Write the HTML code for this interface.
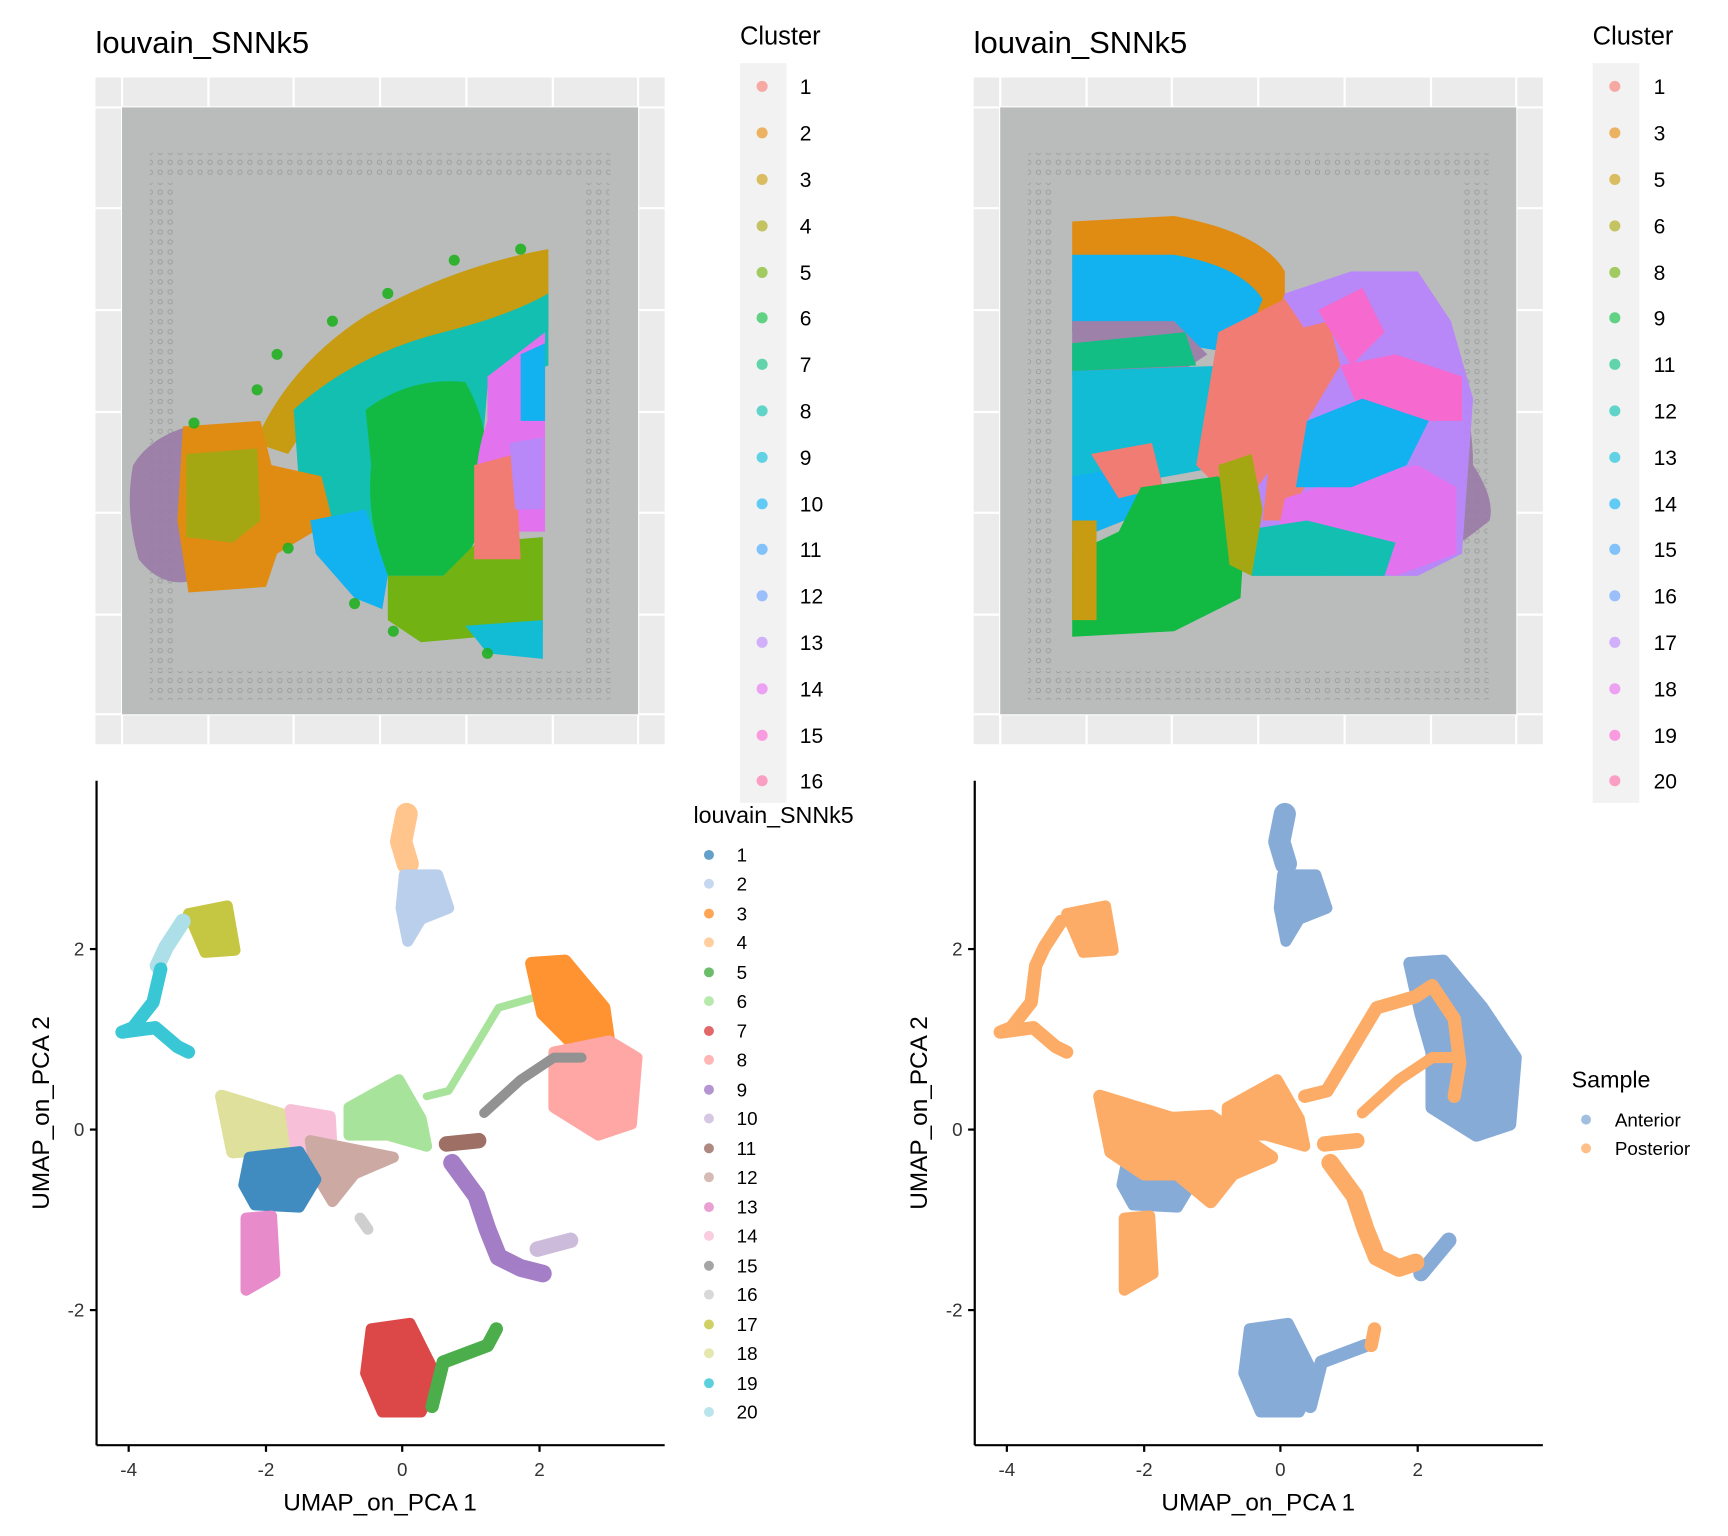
<!DOCTYPE html>
<html><head><meta charset="utf-8"><style>
html,body{margin:0;padding:0;background:#fff}
svg{display:block}
text{font-family:"Liberation Sans",sans-serif;}
</style></head><body>
<svg width="1728" height="1536" viewBox="0 0 1560 1387" xmlns="http://www.w3.org/2000/svg">
<defs>
<pattern id="dots" width="9" height="9" patternUnits="userSpaceOnUse">
<circle cx="4.5" cy="4.5" r="2" fill="none" stroke="#9a9c9c" stroke-width="0.8"/>
</pattern>
<g id="grid">
<rect x="0" y="0" width="514" height="602" fill="#ebebeb"/>
<g stroke="#fff" stroke-width="2">
<line x1="24" y1="0" x2="24" y2="602"/><line x1="102" y1="0" x2="102" y2="602"/><line x1="179" y1="0" x2="179" y2="602"/><line x1="257" y1="0" x2="257" y2="602"/><line x1="335" y1="0" x2="335" y2="602"/><line x1="413" y1="0" x2="413" y2="602"/><line x1="490" y1="0" x2="490" y2="602"/>
<line x1="0" y1="27" x2="514" y2="27"/><line x1="0" y1="118" x2="514" y2="118"/><line x1="0" y1="210" x2="514" y2="210"/><line x1="0" y1="302" x2="514" y2="302"/><line x1="0" y1="393" x2="514" y2="393"/><line x1="0" y1="485" x2="514" y2="485"/><line x1="0" y1="575" x2="514" y2="575"/>
</g>
<rect x="24" y="27" width="466" height="548" fill="#b9bcbb"/>
<rect x="49" y="68" width="416" height="22" fill="url(#dots)"/>
<rect x="49" y="536" width="416" height="26" fill="url(#dots)"/>
<rect x="49" y="95" width="24" height="440" fill="url(#dots)"/>
<rect x="440" y="95" width="24" height="440" fill="url(#dots)"/>
</g>
</defs>

<!-- Top left spatial -->
<text x="86" y="48" font-size="28" fill="#000">louvain_SNNk5</text>
<g transform="translate(86,70)"><use href="#grid"/></g>
<g opacity="0.9">
<path d="M120,420 Q112,460 125,505 Q145,530 170,525 L170,385 Q135,395 120,420Z" fill="#9a7ba8"/>
<path d="M230,400 Q260,330 330,285 Q410,240 495,225 L495,300 Q420,310 350,330 Q290,360 260,410 Z" fill="#c99800"/>
<path d="M265,370 Q320,320 400,300 Q460,285 495,265 L495,330 L440,350 L430,470 L330,520 L290,480 L270,440 Z" fill="#00c0af"/>
<path d="M165,385 L235,380 L245,420 L290,430 L300,470 L250,500 L240,530 L170,535 L160,470 Z" fill="#e58700"/>
<path d="M168,410 L232,405 L235,470 L210,490 L168,485 Z" fill="#a3a500"/>
<path d="M330,370 Q370,340 420,345 Q440,380 440,420 Q440,500 400,520 L350,520 Q330,470 335,420 Z" fill="#00ba38"/>
<path d="M280,470 L330,460 L350,520 L345,550 L320,540 L285,500 Z" fill="#00b0f6"/>
<path d="M350,520 L400,520 L430,490 L490,485 L490,570 L380,580 L350,560 Z" fill="#6bb100"/>
<path d="M420,565 L490,560 L490,595 L440,590 Z" fill="#00bcd8"/>
<path d="M440,340 L492,300 L492,480 L430,480 Q425,420 440,380Z" fill="#e76bf3"/>
<path d="M428,420 L465,410 L470,505 L428,505 Z" fill="#f8766d"/>
<path d="M470,320 L492,310 L492,380 L470,380 Z" fill="#00b0f6"/>
<path d="M460,400 L490,395 L490,460 L465,460Z" fill="#b983ff"/>
</g>
<g fill="#22b022" opacity="0.9">
<circle cx="175" cy="382" r="5"/><circle cx="232" cy="352" r="5"/><circle cx="250" cy="320" r="5"/><circle cx="300" cy="290" r="5"/><circle cx="350" cy="265" r="5"/><circle cx="410" cy="235" r="5"/><circle cx="470" cy="225" r="5"/><circle cx="260" cy="495" r="5"/><circle cx="320" cy="545" r="5"/><circle cx="355" cy="570" r="5"/><circle cx="440" cy="590" r="5"/>
</g>

<!-- Legend top left -->
<text x="668" y="40" font-size="23">Cluster</text>
<rect x="668" y="57" width="42" height="668" fill="#f2f2f2"/>
<g font-size="19">
<circle cx="688" cy="78" r="5" fill="#f8766d" opacity=".6"/><text x="722" y="85">1</text>
<circle cx="688" cy="120" r="5" fill="#e58700" opacity=".6"/><text x="722" y="127">2</text>
<circle cx="688" cy="162" r="5" fill="#c99800" opacity=".6"/><text x="722" y="169">3</text>
<circle cx="688" cy="204" r="5" fill="#a3a500" opacity=".6"/><text x="722" y="211">4</text>
<circle cx="688" cy="246" r="5" fill="#6bb100" opacity=".6"/><text x="722" y="253">5</text>
<circle cx="688" cy="287" r="5" fill="#00ba38" opacity=".6"/><text x="722" y="294">6</text>
<circle cx="688" cy="329" r="5" fill="#00bf7d" opacity=".6"/><text x="722" y="336">7</text>
<circle cx="688" cy="371" r="5" fill="#00c0af" opacity=".6"/><text x="722" y="378">8</text>
<circle cx="688" cy="413" r="5" fill="#00bcd8" opacity=".6"/><text x="722" y="420">9</text>
<circle cx="688" cy="455" r="5" fill="#00b0f6" opacity=".6"/><text x="722" y="462">10</text>
<circle cx="688" cy="496" r="5" fill="#35a2ff" opacity=".6"/><text x="722" y="503">11</text>
<circle cx="688" cy="538" r="5" fill="#619cff" opacity=".6"/><text x="722" y="545">12</text>
<circle cx="688" cy="580" r="5" fill="#b983ff" opacity=".6"/><text x="722" y="587">13</text>
<circle cx="688" cy="622" r="5" fill="#e76bf3" opacity=".6"/><text x="722" y="629">14</text>
<circle cx="688" cy="664" r="5" fill="#fd61d1" opacity=".6"/><text x="722" y="671">15</text>
<circle cx="688" cy="705" r="5" fill="#ff67a4" opacity=".6"/><text x="722" y="712">16</text>
</g>

<!-- Top right spatial -->
<text x="879" y="48" font-size="28">louvain_SNNk5</text>
<g transform="translate(879,70)"><use href="#grid"/></g>
<g opacity="0.9">
<path d="M1300,310 Q1330,360 1330,420 Q1350,450 1345,470 Q1320,490 1310,495 L1300,310Z" fill="#9a7ba8"/>
<path d="M968,200 L1060,195 Q1140,210 1160,245 L1160,290 L1120,300 L1100,270 Q1060,245 1000,245 L968,245 Z" fill="#e58700"/>
<path d="M968,230 L1060,230 Q1120,240 1140,270 L1120,320 L1060,310 L968,300 Z" fill="#00b0f6"/>
<path d="M968,290 L1060,290 L1090,320 L1060,340 L968,340 Z" fill="#9a7ba8"/>
<path d="M968,310 L1070,300 L1080,330 L968,335 Z" fill="#00bf7d"/>
<path d="M968,335 L1110,330 L1130,360 L1110,420 L1000,440 L968,430 Z" fill="#00bcd8"/>
<path d="M1160,265 L1220,245 L1280,245 L1310,290 L1330,360 L1320,500 L1280,520 L1200,520 L1140,510 L1130,420 L1140,330 Z" fill="#b983ff"/>
<path d="M1100,300 L1160,270 L1180,300 L1150,420 L1120,460 L1080,420 Z" fill="#f8766d"/>
<path d="M1160,300 L1200,290 L1210,330 L1180,380 L1190,420 L1160,470 L1140,470 L1150,380 Z" fill="#f8766d"/>
<path d="M1210,330 L1260,320 L1320,340 L1320,380 L1280,380 L1240,400 Z" fill="#fd61d1"/>
<path d="M1190,280 L1230,260 L1250,300 L1220,330 Z" fill="#fd61d1"/>
<path d="M1160,450 L1220,430 L1280,420 L1315,440 L1315,500 L1260,520 L1210,510 L1150,500 Z" fill="#e76bf3"/>
<path d="M1180,380 L1230,360 L1290,380 L1270,420 L1220,440 L1170,440 Z" fill="#00b0f6"/>
<path d="M1115,480 L1180,470 L1260,490 L1250,520 L1130,520 Z" fill="#00c0af"/>
<path d="M968,430 L1030,420 L1040,460 L990,480 L968,500 Z" fill="#00b0f6"/>
<path d="M985,410 L1040,400 L1050,440 L1010,450 Z" fill="#f8766d"/>
<path d="M1030,440 L1100,430 L1125,460 L1120,540 L1060,570 L968,575 L968,500 L1010,480 Z" fill="#00ba38"/>
<path d="M968,470 L990,470 L990,560 L968,560 Z" fill="#c99800"/>
<path d="M1100,420 L1130,410 L1140,460 L1130,520 L1110,510 Z" fill="#a3a500"/>
</g>

<!-- Legend top right -->
<text x="1438" y="40" font-size="23">Cluster</text>
<rect x="1438" y="57" width="42" height="668" fill="#f2f2f2"/>
<g font-size="19">
<circle cx="1458" cy="78" r="5" fill="#f8766d" opacity=".6"/><text x="1493" y="85">1</text>
<circle cx="1458" cy="120" r="5" fill="#e58700" opacity=".6"/><text x="1493" y="127">3</text>
<circle cx="1458" cy="162" r="5" fill="#c99800" opacity=".6"/><text x="1493" y="169">5</text>
<circle cx="1458" cy="204" r="5" fill="#a3a500" opacity=".6"/><text x="1493" y="211">6</text>
<circle cx="1458" cy="246" r="5" fill="#6bb100" opacity=".6"/><text x="1493" y="253">8</text>
<circle cx="1458" cy="287" r="5" fill="#00ba38" opacity=".6"/><text x="1493" y="294">9</text>
<circle cx="1458" cy="329" r="5" fill="#00bf7d" opacity=".6"/><text x="1493" y="336">11</text>
<circle cx="1458" cy="371" r="5" fill="#00c0af" opacity=".6"/><text x="1493" y="378">12</text>
<circle cx="1458" cy="413" r="5" fill="#00bcd8" opacity=".6"/><text x="1493" y="420">13</text>
<circle cx="1458" cy="455" r="5" fill="#00b0f6" opacity=".6"/><text x="1493" y="462">14</text>
<circle cx="1458" cy="496" r="5" fill="#35a2ff" opacity=".6"/><text x="1493" y="503">15</text>
<circle cx="1458" cy="538" r="5" fill="#619cff" opacity=".6"/><text x="1493" y="545">16</text>
<circle cx="1458" cy="580" r="5" fill="#b983ff" opacity=".6"/><text x="1493" y="587">17</text>
<circle cx="1458" cy="622" r="5" fill="#e76bf3" opacity=".6"/><text x="1493" y="629">18</text>
<circle cx="1458" cy="664" r="5" fill="#fd61d1" opacity=".6"/><text x="1493" y="671">19</text>
<circle cx="1458" cy="705" r="5" fill="#ff67a4" opacity=".6"/><text x="1493" y="712">20</text>
</g>

<!-- Bottom left UMAP -->
<g stroke-linecap="round" stroke-linejoin="round" opacity="0.85">
<polyline points="367,735 362,760 368,780" stroke="#ffbb78" stroke-width="20" fill="none"/>
<path d="M365,790 L395,790 L405,820 L380,830 L368,850 L362,820Z" fill="#aec7e8" stroke="#aec7e8" stroke-width="10"/>
<path d="M170,825 L205,818 L212,858 L185,860 Z" fill="#bcbd22" stroke="#bcbd22" stroke-width="10"/>
<polyline points="165,832 150,855 142,872" stroke="#9edae5" stroke-width="14" fill="none"/>
<polyline points="145,875 138,905 120,928 110,932 140,928 160,945 170,950" stroke="#17becf" stroke-width="12" fill="none"/>
<path d="M200,990 L265,1010 L270,1035 L210,1040 Z" fill="#dbdb8d" stroke="#dbdb8d" stroke-width="12"/>
<path d="M262,1002 L298,1008 L300,1045 L270,1060 Z" fill="#f7b6d2" stroke="#f7b6d2" stroke-width="10"/>
<path d="M280,1030 L355,1045 L320,1060 L300,1085 L285,1060 Z" fill="#c49c94" stroke="#c49c94" stroke-width="10"/>
<path d="M225,1045 L270,1040 L285,1065 L270,1090 L230,1088 L220,1070 Z" fill="#1f77b4" stroke="#1f77b4" stroke-width="10"/>
<path d="M222,1100 L245,1098 L248,1150 L222,1165 Z" fill="#e377c2" stroke="#e377c2" stroke-width="10"/>
<path d="M315,1000 L360,975 L380,1010 L385,1035 L350,1025 L315,1025 Z" fill="#98df8a" stroke="#98df8a" stroke-width="10"/>
<polyline points="385,990 405,985 450,910 485,900" stroke="#98df8a" stroke-width="7" fill="none"/>
<path d="M480,870 L510,868 L545,910 L550,945 L520,945 L490,915 Z" fill="#ff7f0e" stroke="#ff7f0e" stroke-width="12"/>
<path d="M500,950 L550,940 L575,955 L570,1015 L540,1025 L500,1000 Z" fill="#ff9896" stroke="#ff9896" stroke-width="10"/>
<polyline points="437,1005 470,975 500,955 525,955" stroke="#7f7f7f" stroke-width="9" fill="none"/>
<polyline points="403,1033 432,1030" stroke="#8c564b" stroke-width="14" fill="none"/>
<polyline points="408,1050 430,1080 440,1110 450,1135 470,1145 490,1150" stroke="#9467bd" stroke-width="16" fill="none"/>
<polyline points="485,1128 515,1120" stroke="#c5b0d5" stroke-width="14" fill="none"/>
<path d="M335,1200 L370,1195 L395,1245 L380,1275 L345,1275 L330,1240 Z" fill="#d62728" stroke="#d62728" stroke-width="10"/>
<polyline points="390,1270 400,1230 440,1215 448,1200" stroke="#2ca02c" stroke-width="12" fill="none"/>
<polyline points="325,1100 332,1110" stroke="#c7c7c7" stroke-width="10" fill="none"/>
</g>
<line x1="87" y1="705" x2="87" y2="1305" stroke="#000" stroke-width="2"/>
<line x1="87" y1="1305" x2="600" y2="1305" stroke="#000" stroke-width="2"/>
<g stroke="#000" stroke-width="2"><line x1="116" y1="1305" x2="116" y2="1311"/><line x1="240" y1="1305" x2="240" y2="1311"/><line x1="363" y1="1305" x2="363" y2="1311"/><line x1="487" y1="1305" x2="487" y2="1311"/>
<line x1="81" y1="857" x2="87" y2="857"/><line x1="81" y1="1020" x2="87" y2="1020"/><line x1="81" y1="1183" x2="87" y2="1183"/></g>
<g font-size="17" fill="#333" text-anchor="middle"><text x="116" y="1333">-4</text><text x="240" y="1333">-2</text><text x="363" y="1333">0</text><text x="487" y="1333">2</text></g>
<g font-size="17" fill="#333" text-anchor="end"><text x="76" y="863">2</text><text x="76" y="1026">0</text><text x="76" y="1189">-2</text></g>
<text x="343" y="1364" font-size="22" text-anchor="middle">UMAP_on_PCA 1</text>
<text transform="translate(44,1005) rotate(-90)" font-size="22" text-anchor="middle">UMAP_on_PCA 2</text>
<text x="626" y="743" font-size="21">louvain_SNNk5</text>
<g font-size="17">
<circle cx="640" cy="772" r="4.5" fill="#1f77b4" opacity=".7"/><text x="665" y="778">1</text>
<circle cx="640" cy="798" r="4.5" fill="#aec7e8" opacity=".7"/><text x="665" y="804">2</text>
<circle cx="640" cy="825" r="4.5" fill="#ff7f0e" opacity=".7"/><text x="665" y="831">3</text>
<circle cx="640" cy="851" r="4.5" fill="#ffbb78" opacity=".7"/><text x="665" y="857">4</text>
<circle cx="640" cy="878" r="4.5" fill="#2ca02c" opacity=".7"/><text x="665" y="884">5</text>
<circle cx="640" cy="904" r="4.5" fill="#98df8a" opacity=".7"/><text x="665" y="910">6</text>
<circle cx="640" cy="931" r="4.5" fill="#d62728" opacity=".7"/><text x="665" y="937">7</text>
<circle cx="640" cy="957" r="4.5" fill="#ff9896" opacity=".7"/><text x="665" y="963">8</text>
<circle cx="640" cy="984" r="4.5" fill="#9467bd" opacity=".7"/><text x="665" y="990">9</text>
<circle cx="640" cy="1010" r="4.5" fill="#c5b0d5" opacity=".7"/><text x="665" y="1016">10</text>
<circle cx="640" cy="1037" r="4.5" fill="#8c564b" opacity=".7"/><text x="665" y="1043">11</text>
<circle cx="640" cy="1063" r="4.5" fill="#c49c94" opacity=".7"/><text x="665" y="1069">12</text>
<circle cx="640" cy="1090" r="4.5" fill="#e377c2" opacity=".7"/><text x="665" y="1096">13</text>
<circle cx="640" cy="1116" r="4.5" fill="#f7b6d2" opacity=".7"/><text x="665" y="1122">14</text>
<circle cx="640" cy="1143" r="4.5" fill="#7f7f7f" opacity=".7"/><text x="665" y="1149">15</text>
<circle cx="640" cy="1169" r="4.5" fill="#c7c7c7" opacity=".7"/><text x="665" y="1175">16</text>
<circle cx="640" cy="1196" r="4.5" fill="#bcbd22" opacity=".7"/><text x="665" y="1202">17</text>
<circle cx="640" cy="1222" r="4.5" fill="#dbdb8d" opacity=".7"/><text x="665" y="1228">18</text>
<circle cx="640" cy="1249" r="4.5" fill="#17becf" opacity=".7"/><text x="665" y="1255">19</text>
<circle cx="640" cy="1275" r="4.5" fill="#9edae5" opacity=".7"/><text x="665" y="1281">20</text>
</g>

<!-- Bottom right UMAP -->
<g transform="translate(793,0)" stroke-linecap="round" stroke-linejoin="round" opacity="0.9">
<polyline points="367,735 362,760 368,780" stroke="#7aa3d3" stroke-width="20" fill="none"/>
<path d="M365,790 L395,790 L405,820 L380,830 L368,850 L362,820Z" fill="#7aa3d3" stroke="#7aa3d3" stroke-width="10"/>
<path d="M480,870 L510,868 L545,910 L575,955 L570,1015 L540,1025 L500,1000 L500,950 L490,915 Z" fill="#7aa3d3" stroke="#7aa3d3" stroke-width="12"/>
<path d="M335,1200 L370,1195 L395,1245 L380,1275 L345,1275 L330,1240 Z" fill="#7aa3d3" stroke="#7aa3d3" stroke-width="10"/>
<polyline points="390,1270 400,1230 440,1215" stroke="#7aa3d3" stroke-width="12" fill="none"/>
<polyline points="445,1215 448,1200" stroke="#fda457" stroke-width="12" fill="none"/>
<polyline points="490,1150 515,1120" stroke="#7aa3d3" stroke-width="14" fill="none"/>
<path d="M225,1045 L270,1040 L285,1065 L270,1090 L230,1088 L220,1070 Z" fill="#7aa3d3" stroke="#7aa3d3" stroke-width="10"/>
<g stroke="#fda457" fill="#fda457">
<path d="M170,825 L205,818 L212,858 L185,860 Z" stroke-width="10"/>
<polyline points="165,832 150,855 142,872 138,905 120,928 110,932 140,928 160,945 170,950" stroke-width="12" fill="none"/>
<path d="M200,990 L265,1010 L300,1008 L355,1045 L320,1060 L300,1085 L270,1060 L240,1060 L210,1040 Z" stroke-width="12"/>
<path d="M222,1100 L245,1098 L248,1150 L222,1165 Z" stroke-width="10"/>
<path d="M315,1000 L360,975 L380,1010 L385,1035 L350,1025 L315,1025 Z" stroke-width="10"/>
<polyline points="385,990 405,985 450,910 485,900 500,890 520,920 525,960 520,990" stroke-width="12" fill="none"/>
<polyline points="437,1005 470,975 500,955 525,955" stroke-width="10" fill="none"/>
<polyline points="403,1033 432,1030" stroke-width="14" fill="none"/>
<polyline points="408,1050 430,1080 440,1110 450,1135 470,1145 485,1140" stroke-width="16" fill="none"/>
</g>
</g>
<line x1="880" y1="705" x2="880" y2="1305" stroke="#000" stroke-width="2"/>
<line x1="880" y1="1305" x2="1393" y2="1305" stroke="#000" stroke-width="2"/>
<g stroke="#000" stroke-width="2"><line x1="909" y1="1305" x2="909" y2="1311"/><line x1="1033" y1="1305" x2="1033" y2="1311"/><line x1="1156" y1="1305" x2="1156" y2="1311"/><line x1="1280" y1="1305" x2="1280" y2="1311"/>
<line x1="874" y1="857" x2="880" y2="857"/><line x1="874" y1="1020" x2="880" y2="1020"/><line x1="874" y1="1183" x2="880" y2="1183"/></g>
<g font-size="17" fill="#333" text-anchor="middle"><text x="909" y="1333">-4</text><text x="1033" y="1333">-2</text><text x="1156" y="1333">0</text><text x="1280" y="1333">2</text></g>
<g font-size="17" fill="#333" text-anchor="end"><text x="869" y="863">2</text><text x="869" y="1026">0</text><text x="869" y="1189">-2</text></g>
<text x="1136" y="1364" font-size="22" text-anchor="middle">UMAP_on_PCA 1</text>
<text transform="translate(837,1005) rotate(-90)" font-size="22" text-anchor="middle">UMAP_on_PCA 2</text>
<text x="1419" y="982" font-size="21">Sample</text>
<circle cx="1432" cy="1011" r="4.5" fill="#7aa3d3" opacity=".7"/><text x="1458" y="1017" font-size="17">Anterior</text>
<circle cx="1432" cy="1037" r="4.5" fill="#fda457" opacity=".7"/><text x="1458" y="1043" font-size="17">Posterior</text>
</svg>
</body></html>
